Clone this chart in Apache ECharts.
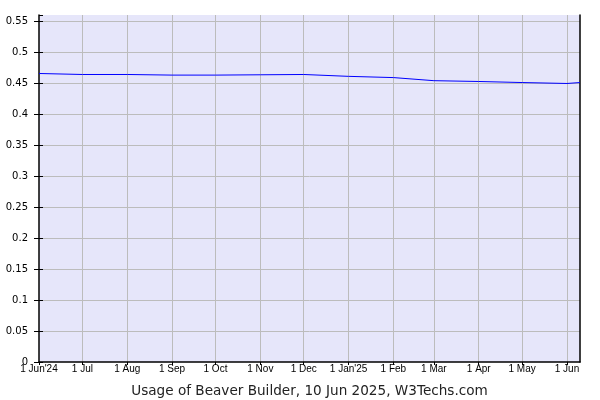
<!DOCTYPE html>
<html><head><meta charset="utf-8">
<script src="https://cdn.jsdelivr.net/npm/echarts@6/dist/echarts.min.js"></script>
<style>html,body{margin:0;padding:0;background:#fff}#c{width:600px;height:400px}</style>
</head><body><div id="c"></div>
<script>
const startDate = '2024-06-01';
const endDate = '2025-06-10';
const tickDates = ['2024-06-01','2024-07-01','2024-08-01','2024-09-01','2024-10-01','2024-11-01','2024-12-01','2025-01-01','2025-02-01','2025-03-01','2025-04-01','2025-05-01','2025-06-01'];
const tickLabels = ["1 Jun'24",'1 Jul','1 Aug','1 Sep','1 Oct','1 Nov','1 Dec',"1 Jan'25",'1 Feb','1 Mar','1 Apr','1 May','1 Jun'];
const pointDates = ['2024-06-01','2024-07-01','2024-08-01','2024-09-01','2024-10-01','2024-11-01','2024-12-01','2025-01-01','2025-02-01','2025-03-01','2025-04-01','2025-05-01','2025-06-01','2025-06-10'];
const usage = [0.4656,0.464,0.464,0.463,0.463,0.4635,0.464,0.461,0.459,0.454,0.4527,0.451,0.4495,0.451];
const title = 'Usage of Beaver Builder, 10 Jun 2025, W3Techs.com';

function dayIndex(s){ return Math.round((Date.parse(s+'T00:00:00Z') - Date.parse(startDate+'T00:00:00Z'))/86400000); }
const nDays = dayIndex(endDate) + 1;
const cats = [];
for (let i = 0; i < nDays; i++) cats.push(String(i));
const tickIdx = {};
tickDates.forEach((d, k) => { tickIdx[dayIndex(d)] = tickLabels[k]; });
const seriesData = pointDates.map((d, k) => [dayIndex(d), usage[k]]);
const isTick = (i) => tickIdx[i] !== undefined;

const chart = echarts.init(document.getElementById('c'), null, {renderer:'canvas'});
chart.setOption({
  animation: false,
  title: {text: title, left: 304.5, textAlign: 'center', top: 379,
    textStyle: {fontFamily: 'DejaVu Sans', fontSize: 13.6, fontWeight: 'normal', color: '#222'}},
  grid: {left: 39, right: 20, top: 15, bottom: 38, show: true, backgroundColor: '#e6e6fa', borderWidth: 0},
  xAxis: {type: 'category', data: cats, boundaryGap: false,
    axisLine: {show: true, lineStyle: {color: '#000', width: 1.5}},
    axisTick: {show: true, length: 3, interval: isTick, lineStyle: {color: '#000'}},
    axisLabel: {interval: isTick, formatter: (v, i) => tickIdx[i] || '',
      fontFamily: 'Liberation Sans', fontSize: 10, color: '#000', margin: 2},
    splitLine: {show: true, interval: (i) => isTick(i) && i !== 0, lineStyle: {color: '#bcbcbc', width: 1}}
  },
  yAxis: [{type: 'value', min: 0, max: 0.56, interval: 0.05,
    axisLine: {show: true, lineStyle: {color: '#000', width: 1.5}},
    axisTick: {show: true, length: 5, lineStyle: {color: '#000'}},
    axisLabel: {fontFamily: 'DejaVu Sans', fontSize: 10, color: '#000', margin: 11, showMaxLabel: false,
      formatter: (v) => { const r = v/0.05; return Math.abs(r - Math.round(r)) > 1e-6 ? '' : String(+v.toFixed(2)); }},
    splitLine: {show: true, showMaxLine: false, showMinLine: false, lineStyle: {color: '#bcbcbc', width: 1}}
  },{type: 'value', min: 0, max: 0.56, position: 'right',
    axisLine: {show: true, lineStyle: {color: '#000', width: 1.5}},
    axisTick: {show: false}, axisLabel: {show: false}, splitLine: {show: false}},
  {type: 'value', min: 0, max: 0.56, interval: 0.05, position: 'left', offset: 0,
    axisLine: {show: false}, axisLabel: {show: false}, splitLine: {show: false},
    axisTick: {show: true, inside: true, length: 4, lineStyle: {color: '#000'}}}],
  series: [{type: 'line', data: seriesData, showSymbol: false, symbol: 'none',
    lineStyle: {color: '#0000ff', width: 1}, connectNulls: true}]
});
</script></body></html>
